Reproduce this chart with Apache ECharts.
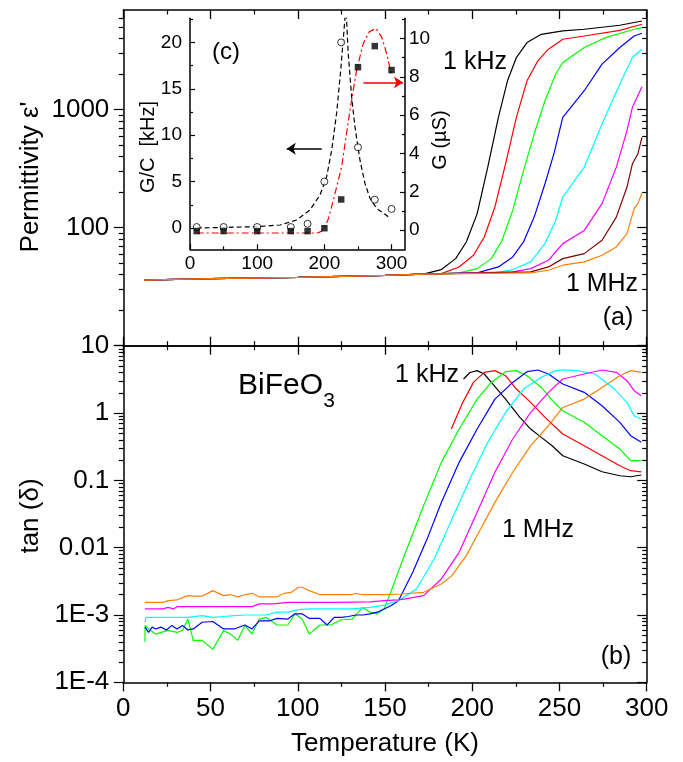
<!DOCTYPE html>
<html><head><meta charset="utf-8">
<script src="https://cdn.jsdelivr.net/npm/echarts@6/dist/echarts.min.js"></script>
<style>html,body{margin:0;padding:0;background:#fff}#c{width:683px;height:762px}</style>
</head><body><div id="c"></div>
<script>
// ---------- DATA ----------
// Panel (a): permittivity vs temperature (K)
const epsBase = [[12,36],[30,36.5],[50,37],[100,38],[150,39.5],[172,40.4]];
const epsBlack = [[182.3,44.2],[190.5,54.7],[196.6,75.7],[202.8,131],[208.9,326],[215,861],[220.2,1758],[225.3,2767],[231.4,3707],[239.6,4355],[251.9,4656],[264.2,4808],[284.6,5200],[297.3,5650]];
const epsRed = [[182.3,40.8],[192.5,46.5],[200.7,58.4],[206.9,83.4],[213,150],[219.1,348],[225.3,861],[231.4,1758],[237.6,2594],[243.7,3258],[251.9,3954],[264.2,4217],[284.6,4700],[297.3,5297]];
const epsGreen = [[192.5,41.4],[202.8,45],[211,54.7],[217.1,78.2],[223.2,140],[229.4,305],[235.5,622],[241.7,1191],[247.8,2000],[251.9,2512],[264.2,3365],[276.4,4083],[292.8,4808],[297.3,4966]];
const epsBlue = [[202.8,41.4],[215,46.5],[223.2,56.5],[229.4,75.7],[235.5,123],[241.7,236],[246.8,422],[251.9,861],[264.2,1449],[274.4,2432],[284.6,3365],[292.8,4217],[297.3,4446]];
const epsCyan = [[213,41.4],[223.2,44.2],[233.5,51.3],[241.7,73.3],[247.8,115],[251.9,182],[264.2,326],[274.4,757],[284.6,1648],[291.8,2767],[297.3,3258]];
const epsMagenta = [[223.2,42.2],[233.5,45],[243.7,53],[251.9,73.3],[264.2,94.9],[274.4,160],[282.6,326],[288.7,665],[291.8,1047],[297.3,1565]];
const epsBrown = [[233.5,42.2],[243.7,46.5],[251.9,54.7],[264.2,60.3],[274.4,78.2],[282.6,123],[288.7,221],[291.8,348],[294.9,422],[297.3,583]];
const epsOrange = [[233.5,41.4],[243.7,43.6],[251.9,48.1],[264.2,51.3],[274.4,58.4],[282.6,68.7],[288.7,89],[292.8,145],[294.9,160],[297.3,196]];

// Panel (b): tan(delta) vs temperature (K)
const tanBlack = [[195,3.2],[198.7,4.0],[202.8,4.26],[206.9,3.8],[211,2.85],[219.1,1.61],[227.3,0.862],[233.5,0.578],[239.6,0.435],[245.8,0.327],[251.9,0.232],[264.2,0.175],[274.4,0.134],[284.6,0.117],[290.8,0.113],[296.9,0.12]];
const tanRed = [[188,0.578],[194.6,1.44],[200.7,2.85],[206.9,4.02],[213,4.26],[219.1,3.58],[225.3,2.27],[233.5,1.44],[241.7,0.862],[251.9,0.488],[264.2,0.327],[274.4,0.232],[284.6,0.165],[290.8,0.139],[296.9,0.134]];
const tanGreen = [[12.4,0.0004],[12.5,0.0007],[14.5,0.00062],[18.6,0.00052],[22.7,0.00056],[25.7,0.00059],[30.8,0.00055],[34,0.00059],[37,0.00087],[40.1,0.00042],[45.2,0.00042],[51.3,0.00031],[57.5,0.00059],[61.5,0.00052],[65.6,0.00042],[69.7,0.0007],[73.8,0.00052],[77.9,0.00087],[82,0.00092],[88.1,0.00071],[94.3,0.00071],[98.4,0.00104],[102.5,0.00087],[106.6,0.00052],[112.7,0.00071],[118.9,0.00071],[125,0.00085],[131.1,0.00087],[137.3,0.0013],[141.4,0.0011],[145.5,0.00104],[149.5,0.00123],[153.6,0.0023],[161.8,0.00853],[172.1,0.042],[182.3,0.185],[192.5,0.578],[202.8,1.61],[211,2.85],[219.1,4.11],[225.3,4.26],[231.4,3.58],[239.6,2.4],[247.8,1.36],[251.9,1.08],[264.2,0.727],[274.4,0.461],[284.6,0.292],[290.8,0.196],[296.9,0.196]];
const tanBlue = [[12.4,0.00066],[13.4,0.0007],[14.5,0.00055],[16.5,0.00066],[18.6,0.00062],[21.6,0.00066],[24.7,0.0006],[27.8,0.0007],[30.8,0.00062],[33.9,0.0007],[37,0.0006],[40.1,0.00062],[45.2,0.00078],[51.3,0.0008],[57.5,0.00062],[63.6,0.00062],[69.7,0.00071],[73.8,0.00062],[77.9,0.00082],[84,0.00082],[88.1,0.00089],[94.3,0.00087],[98.4,0.00104],[102.5,0.00104],[106.6,0.00089],[112.7,0.00089],[116.8,0.00071],[120.9,0.00092],[125,0.00092],[129,0.00095],[133.2,0.001],[137.3,0.001],[141.4,0.00104],[145.5,0.0011],[149.5,0.00123],[153.6,0.00138],[157.7,0.00163],[165.9,0.0043],[174.1,0.0134],[182.3,0.047],[192.5,0.185],[202.8,0.578],[213,1.61],[223.2,2.85],[231.4,4.11],[237.6,4.36],[243.7,3.8],[251.9,2.7],[264.2,2.03],[274.4,1.28],[284.6,0.727],[290.8,0.461],[296.9,0.367]];
const tanCyan = [[12.4,0.00078],[13,0.00092],[18.6,0.00092],[30.8,0.00092],[37,0.00092],[45.2,0.00098],[51.3,0.00092],[57.5,0.00095],[63.6,0.00098],[69.7,0.001],[75.8,0.001],[82,0.001],[88.1,0.0011],[94.3,0.0011],[100.5,0.0012],[106.6,0.00123],[112.7,0.00123],[120.9,0.00123],[131.1,0.00123],[141.4,0.0013],[149.5,0.0014],[157.7,0.00163],[168,0.00243],[178.2,0.00679],[188.4,0.0267],[198.7,0.105],[208.9,0.367],[219.1,1.02],[229.4,2.27],[239.6,3.39],[247.8,4.26],[251.9,4.36],[260.1,4.26],[270.3,3.8],[280.5,2.4],[288.7,1.44],[292.8,0.912],[296.9,0.815]];
const tanMagenta = [[12.4,0.00123],[22.7,0.00123],[25.7,0.0013],[28.7,0.00123],[30.8,0.00133],[40.1,0.00133],[57.5,0.00133],[73.8,0.00133],[77.9,0.00146],[86,0.00146],[94.3,0.00154],[106.6,0.00154],[120.9,0.00154],[141.4,0.00157],[149.5,0.00163],[157.7,0.00168],[161.8,0.00173],[172.1,0.00194],[182.3,0.00343],[192.5,0.00853],[202.8,0.0335],[213,0.132],[223.2,0.411],[233.5,1.02],[243.7,2.03],[251.9,3.2],[264.2,3.8],[274.4,4.36],[282.6,4.02],[288.7,3.02],[292.8,2.15],[296.9,1.81]];
const tanOrange = [[12.4,0.00154],[22.7,0.00154],[25.7,0.00163],[30.8,0.00168],[37,0.00194],[40.1,0.0019],[45.2,0.0019],[51.3,0.0023],[57.5,0.00194],[61.5,0.002],[65.6,0.00186],[69.7,0.002],[73.8,0.0021],[77.9,0.00186],[82,0.00186],[88.1,0.00186],[92.2,0.0021],[96.3,0.00217],[100.5,0.00258],[102.5,0.00258],[106.6,0.0023],[112.7,0.002],[120.9,0.002],[131.1,0.002],[133.2,0.0021],[137.3,0.002],[149.5,0.002],[159.8,0.00205],[172.1,0.00217],[182.3,0.00289],[188.4,0.00384],[196.6,0.00761],[204.8,0.0189],[213,0.0471],[223.2,0.132],[233.5,0.327],[243.7,0.648],[251.9,1.21],[264.2,1.61],[274.4,2.4],[284.6,3.58],[290.8,4.26],[296.9,4.02]];

// Inset (c)
const insetT = [10,50,100,150,175,200,225,250,275,300];
const gcCircles = [0.1,0.1,0.1,0.1,0.45,5.0,20.0,8.7,3.05,2.05];      // G/C [kHz], left axis
const gSquares = [-0.05,-0.05,-0.05,-0.05,-0.05,0.1,1.6,8.5,9.6,8.35]; // G [uS], right axis
const gcFit = [[10,0],[50,0.05],[100,0.15],[134,0.32],[158.7,0.86],[178.6,1.94],[193.5,3.56],[203.4,5.53],[210.9,8.4],[218.3,12.4],[224.3,17.0],[229.2,21.3],[232,24],[235.5,18.8],[240.5,14.2],[245.5,10.9],[253,7.3],[260.4,4.8],[267.9,3.2],[277.8,2.1],[287.7,1.6],[295,1.2]];
const gFit = [[10,-0.15],[100,-0.15],[190,-0.15],[196,-0.05],[200.9,0.17],[206,0.6],[213.3,1.56],[225.7,3.3],[238.1,6.26],[248,8.35],[257.9,9.74],[266.9,10.35],[276.8,10.52],[285.2,10.08],[292.7,9.2],[300.1,8.08]];
const arrowBlack = [[196,8.55],[144,8.55]];   // left axis
const arrowRed = [[258,7.7],[317,7.7]];       // right axis

// Ticks
const xMajor = [0,50,100,150,200,250,300];
const epsMajor = [10,100,1000];
const epsMinor = [20,30,40,50,60,70,80,90,200,300,400,500,600,700,800,900,2000,3000,4000,5000,6000];
const tanMajor = [0.0001,0.001,0.01,0.1,1,10];
const tanLabels = [0.0001,0.001,0.01,0.1,1];
const tanMinor = [];
[0.0001,0.001,0.01,0.1,1].forEach(d => { for (let k = 2; k <= 9; k++) tanMinor.push(+(d*k).toPrecision(3)); });
const inXMajor = [0,100,200,300], inXMinor = [50,150,250];
const inLMajor = [0,5,10,15,20], inLMinor = [2.5,7.5,12.5,17.5,22.5];
const inRMajor = [0,2,4,6,8,10], inRMinor = [1,3,5,7,9,11];

// ---------- CHART ----------
const FONT = 'Liberation Sans';
const AX = {color:'#000', width:1.5};
const G0 = {left:123.3, top:10, width:523.4, height:335.7};
const G1 = {left:123.3, top:345.7, width:523.4, height:336.6};
const G2 = {left:190, top:18.3, width:215, height:231};

function fmtLog(v){
  const e = Math.round(Math.log10(v));
  if (e <= -3) return '1E' + e;
  if (e < 0) return String(+Math.pow(10, e).toFixed(-e));
  return String(Math.round(Math.pow(10, e)));
}
function xAx(grid, pos, inside, labels, len, mlen){
  return {type:'value', gridIndex:grid, min:0, max:300, interval:50, position:pos,
    axisLine:{show:true, onZero:false, lineStyle:AX},
    axisTick:{show:true, inside:inside, length:len, lineStyle:{color:'#000', width:1.3}},
    minorTick:{show:true, splitNumber:2, length:mlen, lineStyle:{color:'#000', width:1.2}},
    axisLabel: labels ? {show:true, fontSize:26, fontFamily:FONT, color:'#000', margin:14} : {show:false},
    splitLine:{show:false}, minorSplitLine:{show:false}};
}
function yAx(type, grid, min, max, pos, inside, len, tickVals, labelVals, showLine, labelOpt){
  const a = {type:type, gridIndex:grid, min:min, max:max, position:pos,
    axisLine:{show:showLine, onZero:false, lineStyle:AX},
    axisTick:{show:true, inside:inside, length:len, customValues:tickVals, lineStyle:{color:'#000', width:1.2}},
    axisLabel: labelVals ? Object.assign({show:true, customValues:labelVals, color:'#000', fontFamily:FONT}, labelOpt) : {show:false},
    splitLine:{show:false}, minorTick:{show:false}, minorSplitLine:{show:false}};
  if (type === 'log') a.logBase = 10;
  return a;
}
function inX(vals, len, labels){
  return {type:'value', gridIndex:2, min:0, max:320, position:'bottom',
    axisLine:{show:labels, onZero:false, lineStyle:AX},
    axisTick:{show:true, inside:true, length:len, customValues:vals, lineStyle:{color:'#000', width:1.2}},
    axisLabel: labels ? {show:true, customValues:inXMajor, fontSize:19, fontFamily:FONT, color:'#000', margin:5} : {show:false},
    splitLine:{show:false}};
}

const xAxis = [
  xAx(0,'bottom',true,false,9,4.5),
  xAx(0,'top',true,false,9,4.5),
  xAx(1,'bottom',false,true,9,4.5),
  xAx(1,'top',true,false,9,4.5),
  inX(inXMajor,5,true),
  inX(inXMinor,3,false)
];
const yAxis = [
  yAx('log',0,10,7000,'left',false,9.5,epsMajor,epsMajor,true,{formatter:fmtLog, fontSize:26, margin:14}),
  yAx('log',0,10,7000,'left',false,4.5,epsMinor,null,false),
  yAx('log',0,10,7000,'right',true,9.5,epsMajor,null,true),
  yAx('log',0,10,7000,'right',true,4.5,epsMinor,null,false),
  yAx('log',1,0.0001,10,'left',false,9.5,tanMajor,tanLabels,true,{formatter:fmtLog, fontSize:26, margin:14}),
  yAx('log',1,0.0001,10,'left',false,4.5,tanMinor,null,false),
  yAx('log',1,0.0001,10,'right',true,9.5,tanMajor,null,true),
  yAx('log',1,0.0001,10,'right',true,4.5,tanMinor,null,false),
  yAx('value',2,-2.3,22.6,'left',true,5,inLMajor,inLMajor,true,{fontSize:19, margin:8}),
  yAx('value',2,-2.3,22.6,'left',true,3,inLMinor,null,false),
  yAx('value',2,-1,11.05,'right',true,5,inRMajor,inRMajor,true,{fontSize:19, margin:4}),
  yAx('value',2,-1,11.05,'right',true,3,inRMinor,null,false)
];

const colors = ['#000000','#ff0000','#00ff00','#0000ff','#00ffff','#ff00ff','#800000','#ff8000'];
const freqNames = ['1 kHz','f2','f3','f4','f5','f6','f7','1 MHz'];
const epsSets = [epsBlack,epsRed,epsGreen,epsBlue,epsCyan,epsMagenta,epsBrown,epsOrange];
const tanSets = [tanBlack,tanRed,tanGreen,tanBlue,tanCyan,tanMagenta,null,tanOrange];

function line(name, data, color, xi, yi, extra){
  return Object.assign({type:'line', name:name, data:data, xAxisIndex:xi, yAxisIndex:yi,
    showSymbol:false, symbol:'none', clip:true, animation:false,
    lineStyle:{color:color, width:1.2}, itemStyle:{color:color}, z:2}, extra||{});
}
const series = [];
epsSets.forEach((d,i) => series.push(line('eps ' + freqNames[i], epsBase.concat(d), colors[i], 0, 0)));
tanSets.forEach((d,i) => { if (d) series.push(line('tan ' + freqNames[i], d, colors[i], 2, 4)); });
series.push(line('G/C fit', gcFit, '#000', 4, 8, {lineStyle:{color:'#000', width:1.2, type:[5,3]}, z:5}));
series.push(line('G fit', gFit, '#ff0000', 4, 10, {lineStyle:{color:'#ff0000', width:1.2, type:[7,3,2,3]}, z:5}));
series.push({type:'scatter', name:'G/C', xAxisIndex:4, yAxisIndex:8, z:6, animation:false,
  data: insetT.map((t,i)=>[t,gcCircles[i]]), symbol:'circle', symbolSize:7,
  itemStyle:{color:'#fff', borderColor:'#000', borderWidth:1}});
series.push({type:'scatter', name:'G', xAxisIndex:4, yAxisIndex:10, z:6, animation:false,
  data: insetT.map((t,i)=>[t,gSquares[i]]), symbol:'rect', symbolSize:6.5,
  itemStyle:{color:'#000'}});
series.push({type:'lines', coordinateSystem:'cartesian2d', xAxisIndex:4, yAxisIndex:8, z:6, animation:false,
  symbol:['none','arrow'], symbolSize:9, data:[{coords:arrowBlack}],
  lineStyle:{color:'#000', width:1.5, opacity:1}});
series.push({type:'lines', coordinateSystem:'cartesian2d', xAxisIndex:4, yAxisIndex:10, z:6, animation:false,
  symbol:['none','arrow'], symbolSize:9, data:[{coords:arrowRed}],
  lineStyle:{color:'#ff0000', width:1.5, opacity:1}});

function txt(text, x, y, size, align, rot){
  return {type:'text', x:x, y:y, rotation:rot||0, z:10,
    style:{text:text, font:size + 'px "' + FONT + '"', fill:'#000', align:align||'center', verticalAlign:'middle',
      textAlign:align||'center', textVerticalAlign:'middle'}};
}
const graphic = [
  txt("Permittivity ε'", 31, 177, 26, 'center', Math.PI/2),
  txt('tan (δ)', 31, 516, 26, 'center', Math.PI/2),
  txt('Temperature (K)', 385, 744, 26, 'center'),
  txt('G/C  [kHz]', 148.5, 147, 20, 'center', Math.PI/2),
  txt('G (µS)', 440, 140, 20, 'center', Math.PI/2),
  txt('(c)', 226, 52, 24, 'center'),
  txt('1 kHz', 475, 62, 25, 'center'),
  txt('1 MHz', 602, 284, 25, 'center'),
  txt('(a)', 618, 318, 25, 'center'),
  txt('BiFeO', 238, 386, 30, 'left'),
  txt('3', 329, 401, 21, 'center'),
  txt('1 kHz', 427, 375, 25, 'center'),
  txt('1 MHz', 538, 530, 25, 'center'),
  txt('(b)', 616, 657, 25, 'center')
];

const chart = echarts.init(document.getElementById('c'), null, {renderer:'canvas'});
chart.setOption({
  animation:false,
  backgroundColor:'#fff',
  grid:[Object.assign({outerBoundsMode:'none'},G0), Object.assign({outerBoundsMode:'none'},G1), Object.assign({outerBoundsMode:'none'},G2)],
  xAxis: xAxis, yAxis: yAxis, series: series, graphic: graphic
});
</script></body></html>
